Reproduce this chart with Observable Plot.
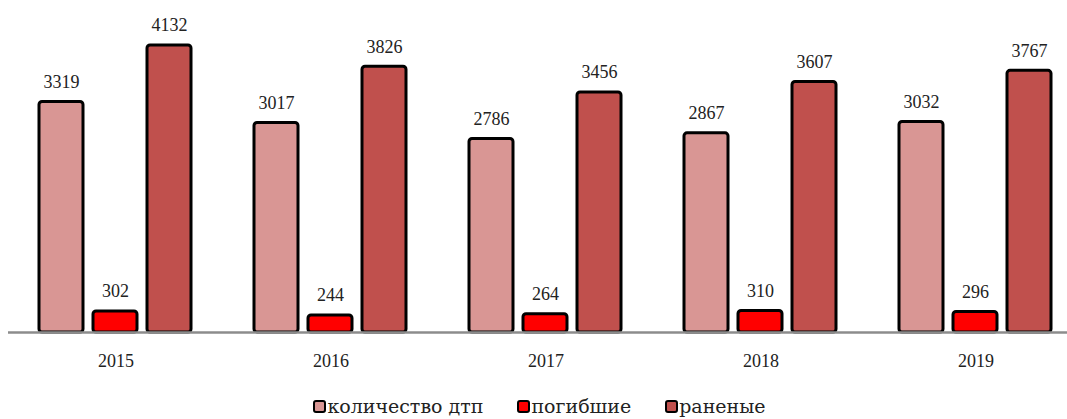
<!DOCTYPE html>
<html><head><meta charset="utf-8">
<script src="https://cdn.jsdelivr.net/npm/d3@7"></script>
<script src="https://cdn.jsdelivr.net/npm/@observablehq/plot@0.6"></script>
<style>
body{margin:0;background:#fff;}
#legend{display:flex;justify-content:center;gap:34px;font-family:'DejaVu Serif','Liberation Serif',serif;font-size:19px;color:#222;height:27px;align-items:center;margin-left:12px;}
#legend span.sw{display:inline-block;width:9px;height:9px;border:2.5px solid #000;border-radius:3px;margin-right:1px;vertical-align:middle;position:relative;top:-1px;}
</style></head>
<body><div id="chart"></div><div id="legend"></div>
<script>
const years = ["2015","2016","2017","2018","2019"];
const seriesNames = ["количество дтп","погибшие","раненые"];
const colors = ["#D99694","#FF0000","#C0504D"];
const accidents = [3319,3017,2786,2867,3032];
const killed = [302,244,264,310,296];
const injured = [4132,3826,3456,3607,3767];

const vals = [accidents, killed, injured];
const data = [];
years.forEach((y,i)=>seriesNames.forEach((s,j)=>data.push({year:y, series:s, value:vals[j][i]})));

const chart = Plot.plot({
  width:1067, height:392,
  marginTop:45, marginBottom:60, marginLeft:10, marginRight:0,
  fx:{domain:years, range:[7.5,1082.5], padding:0, label:null, axis:null},
  x:{domain:seriesNames, paddingInner:0.185, paddingOuter:0.583, axis:null},
  y:{domain:[0,4132], axis:null},
  color:{domain:seriesNames, range:colors},
  style:{fontFamily:"'Liberation Serif', serif", fontSize:"18px", color:"#222"},
  marks:[
    Plot.axisFx({anchor:"bottom", tickSize:0, tickPadding:22, fontSize:18, fontFamily:"Liberation Serif", label:null, fill:"#222"}),
    Plot.barY(data,{fx:"year", x:"series", y:"value", fill:"series", stroke:"#000", strokeWidth:3, rx:3}),
    Plot.text(data,{fx:"year", x:"series", y:"value", text:d=>String(d.value), dy:-20, fontSize:18, fontFamily:"Liberation Serif", fill:"#222"}),
    Plot.ruleY([0],{stroke:"#8c8c8c", strokeWidth:2.5})
  ]
});
document.getElementById("chart").appendChild(chart);
const lg = document.getElementById("legend");
seriesNames.forEach((s,i)=>{
  const it=document.createElement("span");
  it.innerHTML=`<span class="sw" style="background:${colors[i]}"></span>${s}`;
  lg.appendChild(it);
});
</script></body></html>
